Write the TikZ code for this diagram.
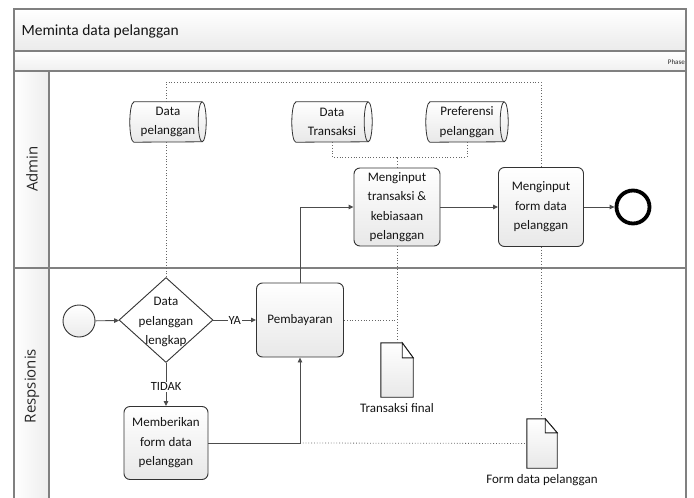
\documentclass[tikz,border=0pt]{standalone}
\usepackage{fontspec}
\setmainfont{Carlito}
\newfontfamily\lanefont{Open Sans}
\usetikzlibrary{shapes.geometric,arrows.meta,calc}

% horizontal data store: rounded left end, open ellipse on the right
\newcommand\storeshape[1]{%
  \path[storebody] ([xshift=4pt]#1.north west) -- ([xshift=-4pt]#1.north east)
    arc[start angle=90,end angle=-90,x radius=4pt,y radius=20pt]
    -- ([xshift=4pt]#1.south west)
    arc[start angle=270,end angle=90,x radius=4pt,y radius=20pt] -- cycle;
  \draw[storeedge] ([xshift=-4pt]#1.north east)
    arc[start angle=90,end angle=270,x radius=4pt,y radius=20pt];}

% document with a folded top-right corner
\newcommand\docshape[3]{%
  \path[docbody] (#1.north west) -- ([xshift=-#2]#1.north east)
    -- ([yshift=-#3]#1.north east) -- (#1.south east) -- (#1.south west) -- cycle;
  \draw[docbody,top color=white,bottom color=white] ([xshift=-#2]#1.north east) |- ([yshift=-#3]#1.north east) -- cycle;}

\begin{document}
\begin{tikzpicture}[x=1pt,y=-1pt,
  frameline/.style={draw=black!50,line width=1.1pt},
  nodetext/.style={font=\fontsize{13}{19.5}\selectfont,align=center,text=black!92},
  task/.style={nodetext,draw=black!80,line width=0.9pt,rounded corners=6pt,
    top color=white,bottom color=black!9,inner sep=0pt},
  store/.style={nodetext,inner sep=0pt,minimum height=40pt},
  storebody/.style={draw=black!80,line width=0.8pt,top color=white,bottom color=black!9},
  storeedge/.style={draw=black!80,line width=0.8pt},
  docnode/.style={inner sep=0pt},
  docbody/.style={draw=black!90,line width=0.9pt,top color=white,bottom color=black!9},
  decision/.style={diamond,draw=black!80,line width=0.9pt,fill=white,inner sep=0pt,
    minimum width=94pt,minimum height=85pt},
  event/.style={circle,draw=black!80,line width=0.9pt,top color=white,bottom color=black!8,
    minimum size=32pt,inner sep=0pt},
  endevent/.style={circle,draw=black,line width=3.8pt,fill=white,minimum size=33pt,inner sep=0pt},
  conn/.style={draw=black!70,line width=0.9pt,-{Triangle[length=5pt,width=4.5pt]}},
  flowlabel/.style={fill=white,inner sep=1pt,font=\fontsize{12.5}{14}\selectfont,text=black!92},
  assoc/.style={draw=black!60,line width=0.8pt,dotted},
  lanelabel/.style={font=\lanefont\fontsize{15}{18}\selectfont,rotate=90,text=black!85}
]
\useasboundingbox (0,0) rectangle (694,498);

% pool frame: title band, phase band, lane headers
\path[top color=white,bottom color=black!8] (14,9) rectangle (686,51);
\path[top color=white,bottom color=black!6] (14,51) rectangle (686,71);
\path[left color=white,right color=black!7] (14,71) rectangle (49,498);
\draw[frameline] (14,498) -- (14,9) -- (686,9) -- (686,498);
\draw[frameline] (14,51) -- (686,51);
\draw[frameline,line width=1.5pt] (14,71) -- (686,71);
\draw[frameline] (49,71) -- (49,498);
\draw[frameline] (14,268) -- (686,268);

\node[anchor=west,font=\fontsize{15.5}{18}\selectfont,text=black!92] (title) at (18,31) {Meminta data pelanggan};
\node[anchor=east,font=\fontsize{7}{8}\selectfont,text=black!85,inner sep=1pt] (phase) at (686,62) {Phase};
\node[lanelabel] (laneA) at (32,169) {Admin};
\node[lanelabel] (laneR) at (32,386) {Respsionis};

% data stores: outline first, then the text on top
\node[store,minimum width=76pt] (dp) at (168,122) {};
\node[store,minimum width=80pt] (dt) at (332,122) {};
\node[store,minimum width=82pt] (pp) at (467,122) {};
\storeshape{dp}\storeshape{dt}\storeshape{pp}
\node[store] (dptext) at (dp.center) {Data\\pelanggan};
\node[store] (dttext) at (dt.center) {Data\\Transaksi};
\node[store] (pptext) at (pp.center) {Preferensi\\pelanggan};

% Admin lane
\node[task,minimum width=86pt,minimum height=78pt] (mt) at (397,207) {Menginput\\transaksi \&\\kebiasaan\\pelanggan};
\node[task,minimum width=85pt,minimum height=79pt] (mf) at (541,207) {Menginput\\form data\\pelanggan};
\node[endevent] (end) at (633,207) {};

% Respsionis lane
\node[event] (start) at (79,321) {};
\node[decision] (dec) at (166,320) {};
\node[nodetext] (dectext) at (166,322) {Data\\pelanggan\\lengkap};
\node[task,minimum width=87pt,minimum height=74pt] (pay) at (300,320) {Pembayaran};
\node[task,minimum width=84pt,minimum height=73pt] (mb) at (166,443) {Memberikan\\form data\\pelanggan};

% documents
\node[docnode,minimum width=32pt,minimum height=54pt] (tf) at (397,370) {};
\node[docnode,minimum width=30pt,minimum height=49pt] (fd) at (542,443.5) {};
\docshape{tf}{11pt}{15pt}
\docshape{fd}{12pt}{14pt}
\node[nodetext] (tflabel) at (397,408) {Transaksi final};
\node[nodetext] (fdlabel) at (542,480) {Form data pelanggan};

% associations
\coordinate (top) at (0,82);
\coordinate (join) at (397,157);
\draw[assoc] (dec.north) -- (dec.north |- dp.south);
\draw[assoc] (dec.north |- dp.north) -- (dec.north |- top) -| (mf.north);
\draw[assoc] (dt.south) |- (join) -- (mt.north);
\draw[assoc] (pp.south) |- (join);
\draw[assoc] (mt.south) -- (tf.north);
\draw[assoc] (pay.east) -- (pay.east -| tf.north);
\draw[assoc] (mf.south) -- (mf.south |- fd.north);
\draw[assoc] (mb.east -| pay.south) -- (fd.west);

% sequence flows
\draw[conn] (start) -- (dec);
\draw[conn] (dec.east) -- node[flowlabel] {YA} (pay.west);
\draw[conn] (dec.south) -- node[flowlabel,pos=0.55] {TIDAK} (mb.north);
\draw[conn] (mb.east) -| (pay.south);
\draw[conn] (pay.north) |- (mt.west);
\draw[conn] (mt.east) -- (mf.west);
\draw[conn] (mf.east) -- (end.west);
\end{tikzpicture}
\end{document}
